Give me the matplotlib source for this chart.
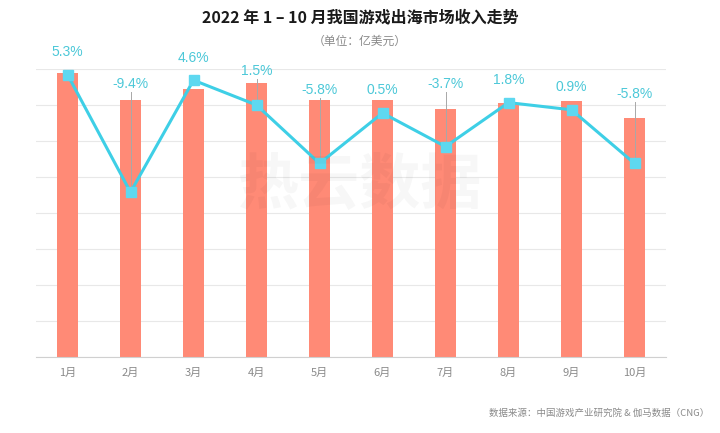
import matplotlib
matplotlib.use("Agg")
import matplotlib.pyplot as plt
import matplotlib.transforms as mtransforms
import numpy as np

plt.rcParams['font.family'] = ['Noto Sans CJK SC', 'DejaVu Sans']

months = ["1月", "2月", "3月", "4月", "5月", "6月", "7月", "8月", "9月", "10月"]
revenue = [15.8, 14.3, 14.9, 15.2, 14.3, 14.3, 13.8, 14.1, 14.2, 13.3]
growth = [5.3, -9.4, 4.6, 1.5, -5.8, 0.5, -3.7, 1.8, 0.9, -5.8]
growth_labels = ["5.3%", "-9.4%", "4.6%", "1.5%", "-5.8%", "0.5%", "-3.7%", "1.8%", "0.9%", "-5.8%"]

# label placement (pixel rows from top of image) and which have leader lines
label_y_px = [52, 84, 58, 71, 90, 90, 84, 80, 87, 94]
leader = [False, True, False, True, True, False, True, False, False, True]

W, H = 720, 433
fig = plt.figure(figsize=(W / 100, H / 100), dpi=100)
left, right, top, bottom = 36, 666, 69, 357
ax = fig.add_axes([left / W, 1 - bottom / H, (right - left) / W, (bottom - top) / H])

x = np.arange(len(months))
bar_color = "#FF8A76"
line_color = "#3ECFE6"
marker_color = "#5ED8F0"
label_color = "#4CC8D8"

ax.bar(x, revenue, width=0.32, color=bar_color, zorder=2)
ax.set_xlim(-0.5, len(months) - 0.5)
ax.set_ylim(0, 16)
ax.set_yticks(np.arange(0, 17, 2))
ax.yaxis.grid(True, color="#E8E8E8", linewidth=0.8, zorder=0)
ax.set_axisbelow(True)
ax.set_xticks(x)
ax.set_xticklabels(months)
for s in ["top", "right", "left"]:
    ax.spines[s].set_visible(False)
ax.spines["bottom"].set_color("#D0D0D0")
ax.spines["bottom"].set_linewidth(0.8)

ax2 = ax.twinx()
ax2.set_ylim(-30, 6)
ax2.axis("off")
ax.tick_params(axis="y", left=False, right=False, labelleft=False, labelright=False, length=0)
ax.tick_params(axis="x", length=0, pad=8, labelsize=8, labelcolor="#8A8A8A")

# leader lines
for i in range(len(months)):
    if leader[i]:
        yl = (bottom - (label_y_px[i] + 8)) / (bottom - top) * 36 - 30
        ax2.plot([x[i], x[i]], [yl, growth[i]], color="#A8A8A8", linewidth=0.7, zorder=3)

ax2.plot(x, growth, color=line_color, linewidth=2.2, zorder=4)
ax2.plot(x, growth, linestyle="none", marker="s", markersize=7,
         color=marker_color, zorder=5)

trans = mtransforms.blended_transform_factory(ax.transData, fig.transFigure)
for i in range(len(months)):
    ax.text(x[i], 1 - label_y_px[i] / H, growth_labels[i], transform=trans,
            ha="center", va="center", fontsize=10, color=label_color,
            family=["Liberation Sans", "DejaVu Sans"])

# watermark
fig.text(0.5, 0.57, "热云数据", ha="center", va="center", fontsize=44,
         color="#000000", alpha=0.03, fontweight="bold")

fig.text(0.5, 1 - 17 / H, "2022 年 1 – 10 月我国游戏出海市场收入走势", ha="center", va="center",
         fontsize=11.5, fontweight="bold", color="#1A1A1A")
fig.text(0.5, 1 - 41 / H, "（单位：亿美元）", ha="center", va="center",
         fontsize=8.5, color="#8A8A8A")
fig.text(709 / W, 1 - 413 / H, "数据来源：中国游戏产业研究院 & 伽马数据（CNG）", ha="right", va="center",
         fontsize=6.8, color="#8A8A8A")

fig.savefig("out.png", dpi=100)
